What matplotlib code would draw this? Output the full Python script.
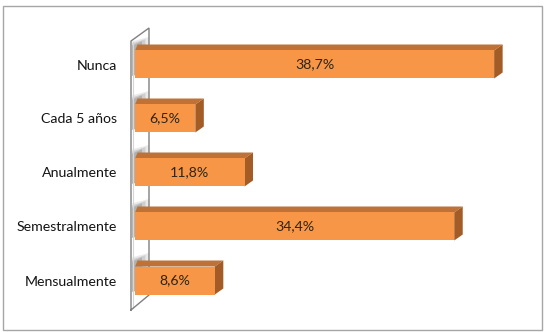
import matplotlib.pyplot as plt
from matplotlib.patches import Polygon, Rectangle

plt.rcParams['font.family'] = ['Lato', 'DejaVu Sans']

# datos
categorias = ["Mensualmente", "Semestralmente", "Anualmente", "Cada 5 años", "Nunca"]
valores = [8.6, 34.4, 11.8, 6.5, 38.7]
etiquetas = ["8,6%", "34,4%", "11,8%", "6,5%", "38,7%"]

# colores de las caras de la barra 3D
c_frente = "#F79646"
c_arriba = "#BF7237"
c_lado = "#A35C26"

W, H = 546, 332
fig = plt.figure(figsize=(W / 100, H / 100), dpi=100)

# escala en pixeles
px_x = 9.28   # pixeles por 1 %
px_y = 54.0   # pixeles entre categorias
x0_px = 135
y0_px = 280.5  # centro de la primera barra (desde arriba)
ylo, yhi = -0.6, 4.6
xhi = 43

ax = fig.add_axes([x0_px / W, (H - (y0_px - ylo * px_y)) / H,
                   xhi * px_x / W, (yhi - ylo) * px_y / H])
ax.set_xlim(0, xhi)
ax.set_ylim(ylo, yhi)

alto = 28 / px_y
dx = 8.5 / px_x
dy = 6 / px_y

# pared lateral
wl, wr = -4 / px_x, 14 / px_x
esq = [(wl, -29.5 / px_y), (wl, 4 + 23.5 / px_y),
       (wr, 4 + 36.5 / px_y), (wr, -14.5 / px_y)]
ax.add_patch(Polygon(esq, closed=True, facecolor="white", edgecolor="none",
                     clip_on=False, zorder=1))
xs = [p[0] for p in esq] + [esq[0][0]]
ys = [p[1] for p in esq] + [esq[0][1]]
ax.plot(xs, ys, color="#808080", lw=1.0, clip_on=False, zorder=2.5,
        solid_joinstyle="miter")
ax.plot([wl + 0.2] * 2, [esq[0][1] + 0.03, esq[1][1] - 0.02], color="#d6d6d6",
        lw=0.8, clip_on=False, zorder=2.4)

ypos = list(range(len(categorias)))
for y, v in zip(ypos, valores):
    # sombra sobre la pared
    for k, a in enumerate([0.55, 0.35, 0.2]):
        ax.add_patch(Polygon([(wl + 0.12, y - alto / 2 + 0.05),
                              (wl + 0.12, y + alto / 2 + dy - 0.02 + k * 0.04),
                              (wr * (0.5 + 0.25 * k), y + alto / 2 + dy + 0.06 + k * 0.04),
                              (wr * (0.5 + 0.25 * k), y - alto / 2 + 0.1)],
                             closed=True, facecolor="#9a9a9a", edgecolor="none",
                             alpha=a, clip_on=False, zorder=2))
    # cara superior
    ax.add_patch(Polygon([(0, y + alto / 2), (dx * 0.3, y + alto / 2 + dy),
                          (v + dx, y + alto / 2 + dy), (v, y + alto / 2)],
                         closed=True, facecolor=c_arriba, edgecolor="none",
                         clip_on=False, zorder=3))
    # cara lateral
    ax.add_patch(Polygon([(v, y - alto / 2), (v, y + alto / 2),
                          (v + dx, y + alto / 2 + dy), (v + dx, y - alto / 2 + dy)],
                         closed=True, facecolor=c_lado, edgecolor="none",
                         clip_on=False, zorder=3))

ax.barh(ypos, valores, height=alto, color=c_frente, edgecolor="none", zorder=4)

for y, v, t in zip(ypos, valores, etiquetas):
    ax.text(v / 2, y, t, ha="center", va="center", fontsize=10.2,
            color="#2e2418", zorder=5)

ax.set_yticks(ypos, categorias, fontsize=10.2, color="#141414")
ax.tick_params(axis="y", length=0, pad=13)
ax.set_xticks([])
for s in ax.spines.values():
    s.set_visible(False)
ax.patch.set_alpha(0)

# borde exterior del grafico
fig.patches.append(Rectangle((3 / W, 2 / H), 539 / W, 324 / H,
                             transform=fig.transFigure, fill=False,
                             edgecolor="#a6a6a6", lw=1.0))

fig.savefig("out.png", dpi=100)
